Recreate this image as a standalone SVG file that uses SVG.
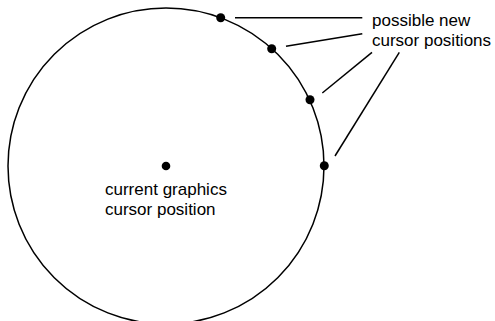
<svg xmlns="http://www.w3.org/2000/svg" width="495" height="321" viewBox="0 0 495 321">
<style>
.ln{stroke:#000;stroke-width:1.5;fill:none}
.dot{fill:#000}
text{font-family:"Liberation Sans",Arial,sans-serif;font-size:17px;fill:#000}
</style>
<rect width="495" height="321" fill="#fff"/>
<g id="circle"><circle class="ln" cx="166" cy="166" r="158"/></g>
<g id="center">
<circle class="dot" cx="166" cy="166" r="4.3"/>
<text x="105" y="195">current graphics</text>
<text x="105" y="215">cursor position</text>
</g>
<g id="points">
<circle class="dot" cx="220.7" cy="17.7" r="4.5"/>
<circle class="dot" cx="271.7" cy="48.7" r="4.5"/>
<circle class="dot" cx="310" cy="99.7" r="4.5"/>
<circle class="dot" cx="324.3" cy="165.7" r="4.5"/>
</g>
<g id="label">
<text x="372" y="25.5">possible new</text>
<text x="372" y="45.5">cursor positions</text>
</g>
<g id="connectors">
<line class="ln" x1="235" y1="17.7" x2="362.3" y2="17.7"/>
<line class="ln" x1="286" y1="46.3" x2="362.3" y2="33.7"/>
<line class="ln" x1="322.3" y1="93" x2="372" y2="52.3"/>
<line class="ln" x1="335" y1="156" x2="399.3" y2="52.3"/>
</g>
</svg>
